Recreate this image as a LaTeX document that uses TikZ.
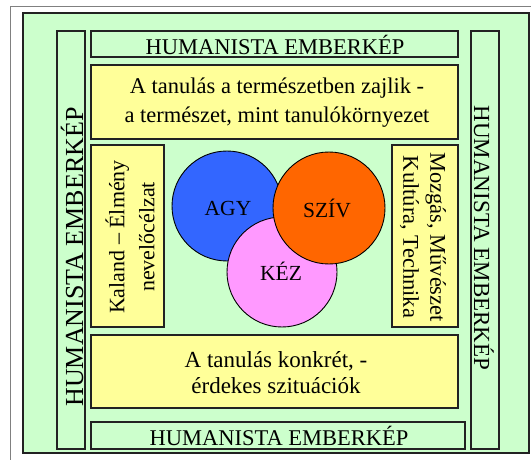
\documentclass[tikz,border=0pt]{standalone}
\usepackage{fontspec}
\setmainfont{Liberation Serif}
\definecolor{bggreen}{HTML}{CCFFCC}
\definecolor{boxyellow}{HTML}{FFFF99}
\definecolor{cblue}{HTML}{3366FF}
\definecolor{corange}{HTML}{FF6600}
\definecolor{cpink}{HTML}{FF99FF}
\definecolor{edge}{HTML}{222222}
\begin{document}
\begin{tikzpicture}[x=1pt,y=-1pt,
  box/.style={draw=edge, line width=1.5pt, inner sep=0pt, outer sep=0pt},
  gbox/.style={box, fill=bggreen},
  ybox/.style={box, fill=boxyellow},
  txt/.style={inner sep=0pt, align=center, font=\fontsize{22.5}{29}\selectfont},
  vtxt/.style={inner sep=0pt, align=center},
  circ/.style={circle, draw=black, line width=0.9pt, minimum size=#1, inner sep=0pt}
]
\useasboundingbox (0,0) rectangle (531,460);
\fill[white] (0,0) rectangle (531,460);
% outer frame
\draw[gray, line width=1pt] (10,7) rectangle (560,490);
% green panel
\node[gbox, minimum width=506pt, minimum height=440pt] (panel) at (276,233) {};
% vertical side boxes
\node[gbox, minimum width=28pt, minimum height=418pt] (leftV) at (71,240) {};
\node[gbox, minimum width=28pt, minimum height=418pt] (rightV) at (485,240) {};
\node[vtxt, rotate=90, font=\fontsize{26}{28}\selectfont] (leftVt) at (72,257) {HUMANISTA EMBERKÉP};
\node[vtxt, rotate=-90, font=\fontsize{23}{26}\selectfont] (rightVt) at (484,238) {HUMANISTA EMBERKÉP};
% top and bottom title boxes
\node[gbox, minimum width=367pt, minimum height=26pt] (topH) at (274.5,44) {};
\node[txt] (topHt) at (275,45) {HUMANISTA EMBERKÉP};
\node[gbox, minimum width=374pt, minimum height=27pt] (botH) at (278,435.5) {};
\node[txt] (botHt) at (279,436) {HUMANISTA EMBERKÉP};
% yellow boxes
\node[ybox, minimum width=367pt, minimum height=74pt] (topY) at (274.5,102) {};
\node[txt] (topYt) at (277,103) {A tanulás a természetben zajlik -\\a természet, mint tanulókörnyezet};
\node[ybox, minimum width=367pt, minimum height=73pt] (botY) at (274.5,371.5) {};
\node[txt, font=\fontsize{23}{26}\selectfont] (botYt) at (276,373) {A tanulás konkrét, -\\érdekes szituációk};
\node[ybox, minimum width=73pt, minimum height=182pt] (leftY) at (127.5,236) {};
\node[txt, rotate=90, font=\fontsize{22}{30}\selectfont] (leftYt) at (130,237) {Kaland – Élmény\\nevelőcélzat};
\node[ybox, minimum width=66pt, minimum height=182pt] (rightY) at (425,236) {};
\node[txt, rotate=-90, font=\fontsize{22.5}{27}\selectfont] (rightYt) at (423,237) {Mozgás, Művészet\\Kultúra, Technika};
% circles
\node[circ=110pt, fill=cblue] (agy) at (227,206) {};
\node[circ=110pt, fill=cpink] (kez) at (282,272) {};
\node[circ=112pt, fill=corange] (sziv) at (329,208) {};
\node[txt, font=\fontsize{21.5}{24}\selectfont] (agyt) at (228,208) {AGY};
\node[txt, font=\fontsize{21.5}{24}\selectfont] (szivt) at (327,208) {SZÍV};
\node[txt, font=\fontsize{21.5}{24}\selectfont] (kezt) at (281,271) {KÉZ};
\end{tikzpicture}
\end{document}
